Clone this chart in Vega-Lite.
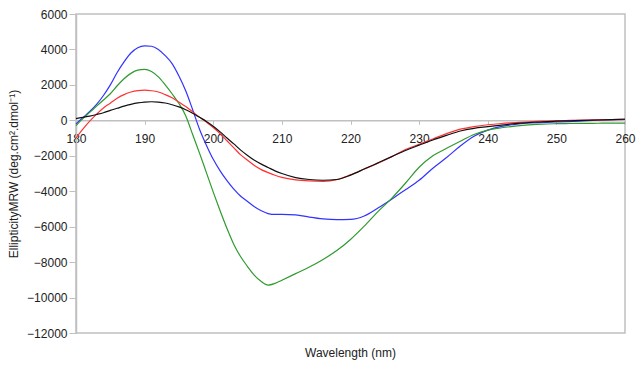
{
"$schema": "https://vega.github.io/schema/vega-lite/v6.json",
"width": 549, "height": 319,
"autosize": "none",
"padding": {"left": 76, "top": 14, "right": 11, "bottom": 33},
"background": "white",
"config": {"view": {"stroke": "#c0c0c0", "strokeWidth": 1.5}, "font": "Liberation Sans"},
"title": {"text": "Wavelength (nm)", "orient": "bottom", "fontSize": 12, "fontWeight": "normal", "color": "#222222", "offset": 9, "anchor": "middle"},
"data": {"values": [
{"s":"s1","x":180,"y":-200},{"s":"s1","x":181,"y":150},{"s":"s1","x":182,"y":500},{"s":"s1","x":183,"y":900},{"s":"s1","x":184,"y":1400},{"s":"s1","x":185,"y":2000},{"s":"s1","x":186,"y":2700},{"s":"s1","x":187,"y":3300},{"s":"s1","x":188,"y":3800},{"s":"s1","x":189,"y":4100},{"s":"s1","x":190,"y":4200},{"s":"s1","x":191,"y":4180},{"s":"s1","x":192,"y":4000},{"s":"s1","x":193,"y":3650},{"s":"s1","x":194,"y":3200},{"s":"s1","x":195,"y":2500},{"s":"s1","x":196,"y":1650},{"s":"s1","x":197,"y":600},{"s":"s1","x":198,"y":-500},{"s":"s1","x":199,"y":-1400},{"s":"s1","x":200,"y":-2200},{"s":"s1","x":201,"y":-2850},{"s":"s1","x":202,"y":-3400},{"s":"s1","x":203,"y":-3880},{"s":"s1","x":204,"y":-4280},{"s":"s1","x":205,"y":-4580},{"s":"s1","x":206,"y":-4880},{"s":"s1","x":207,"y":-5100},{"s":"s1","x":208,"y":-5260},{"s":"s1","x":209,"y":-5310},{"s":"s1","x":210,"y":-5310},{"s":"s1","x":212,"y":-5330},{"s":"s1","x":214,"y":-5460},{"s":"s1","x":216,"y":-5560},{"s":"s1","x":218,"y":-5600},{"s":"s1","x":220,"y":-5590},{"s":"s1","x":222,"y":-5400},{"s":"s1","x":224,"y":-4950},{"s":"s1","x":226,"y":-4450},{"s":"s1","x":228,"y":-3920},{"s":"s1","x":230,"y":-3380},{"s":"s1","x":232,"y":-2700},{"s":"s1","x":234,"y":-2100},{"s":"s1","x":236,"y":-1450},{"s":"s1","x":238,"y":-900},{"s":"s1","x":240,"y":-550},{"s":"s1","x":242,"y":-340},{"s":"s1","x":244,"y":-230},{"s":"s1","x":246,"y":-150},{"s":"s1","x":248,"y":-110},{"s":"s1","x":250,"y":-90},{"s":"s1","x":252,"y":-70},{"s":"s1","x":254,"y":-30},{"s":"s1","x":256,"y":10},{"s":"s1","x":258,"y":40},{"s":"s1","x":260,"y":50},
{"s":"s2","x":180,"y":-300},{"s":"s2","x":181,"y":100},{"s":"s2","x":182,"y":450},{"s":"s2","x":183,"y":800},{"s":"s2","x":184,"y":1150},{"s":"s2","x":185,"y":1500},{"s":"s2","x":186,"y":1950},{"s":"s2","x":187,"y":2350},{"s":"s2","x":188,"y":2650},{"s":"s2","x":189,"y":2830},{"s":"s2","x":190,"y":2870},{"s":"s2","x":191,"y":2750},{"s":"s2","x":192,"y":2450},{"s":"s2","x":193,"y":2000},{"s":"s2","x":194,"y":1500},{"s":"s2","x":195,"y":950},{"s":"s2","x":196,"y":250},{"s":"s2","x":197,"y":-800},{"s":"s2","x":198,"y":-1850},{"s":"s2","x":199,"y":-2950},{"s":"s2","x":200,"y":-4050},{"s":"s2","x":201,"y":-5100},{"s":"s2","x":202,"y":-6100},{"s":"s2","x":203,"y":-7000},{"s":"s2","x":204,"y":-7700},{"s":"s2","x":205,"y":-8250},{"s":"s2","x":206,"y":-8750},{"s":"s2","x":207,"y":-9100},{"s":"s2","x":208,"y":-9300},{"s":"s2","x":209,"y":-9200},{"s":"s2","x":210,"y":-9020},{"s":"s2","x":212,"y":-8650},{"s":"s2","x":214,"y":-8280},{"s":"s2","x":216,"y":-7850},{"s":"s2","x":218,"y":-7350},{"s":"s2","x":220,"y":-6720},{"s":"s2","x":222,"y":-5970},{"s":"s2","x":224,"y":-5150},{"s":"s2","x":226,"y":-4400},{"s":"s2","x":228,"y":-3550},{"s":"s2","x":230,"y":-2650},{"s":"s2","x":232,"y":-2000},{"s":"s2","x":234,"y":-1580},{"s":"s2","x":236,"y":-1180},{"s":"s2","x":238,"y":-800},{"s":"s2","x":240,"y":-550},{"s":"s2","x":242,"y":-420},{"s":"s2","x":244,"y":-330},{"s":"s2","x":246,"y":-260},{"s":"s2","x":248,"y":-210},{"s":"s2","x":250,"y":-190},{"s":"s2","x":252,"y":-180},{"s":"s2","x":254,"y":-170},{"s":"s2","x":256,"y":-165},{"s":"s2","x":258,"y":-160},{"s":"s2","x":260,"y":-160},
{"s":"s3","x":180,"y":-1000},{"s":"s3","x":181,"y":-500},{"s":"s3","x":182,"y":-50},{"s":"s3","x":183,"y":350},{"s":"s3","x":184,"y":700},{"s":"s3","x":185,"y":970},{"s":"s3","x":186,"y":1250},{"s":"s3","x":187,"y":1450},{"s":"s3","x":188,"y":1600},{"s":"s3","x":189,"y":1680},{"s":"s3","x":190,"y":1700},{"s":"s3","x":191,"y":1670},{"s":"s3","x":192,"y":1600},{"s":"s3","x":193,"y":1450},{"s":"s3","x":194,"y":1270},{"s":"s3","x":195,"y":1030},{"s":"s3","x":196,"y":780},{"s":"s3","x":197,"y":480},{"s":"s3","x":198,"y":180},{"s":"s3","x":199,"y":-100},{"s":"s3","x":200,"y":-400},{"s":"s3","x":201,"y":-750},{"s":"s3","x":202,"y":-1150},{"s":"s3","x":203,"y":-1550},{"s":"s3","x":204,"y":-1950},{"s":"s3","x":205,"y":-2250},{"s":"s3","x":206,"y":-2550},{"s":"s3","x":207,"y":-2780},{"s":"s3","x":208,"y":-2950},{"s":"s3","x":209,"y":-3100},{"s":"s3","x":210,"y":-3220},{"s":"s3","x":212,"y":-3360},{"s":"s3","x":214,"y":-3420},{"s":"s3","x":216,"y":-3440},{"s":"s3","x":218,"y":-3350},{"s":"s3","x":220,"y":-3080},{"s":"s3","x":222,"y":-2750},{"s":"s3","x":224,"y":-2420},{"s":"s3","x":226,"y":-2050},{"s":"s3","x":228,"y":-1650},{"s":"s3","x":230,"y":-1350},{"s":"s3","x":232,"y":-1050},{"s":"s3","x":234,"y":-750},{"s":"s3","x":236,"y":-500},{"s":"s3","x":238,"y":-350},{"s":"s3","x":240,"y":-250},{"s":"s3","x":242,"y":-180},{"s":"s3","x":244,"y":-130},{"s":"s3","x":246,"y":-80},{"s":"s3","x":248,"y":-40},{"s":"s3","x":250,"y":-20},{"s":"s3","x":252,"y":-5},{"s":"s3","x":254,"y":10},{"s":"s3","x":256,"y":25},{"s":"s3","x":258,"y":40},{"s":"s3","x":260,"y":50},
{"s":"s4","x":180,"y":100},{"s":"s4","x":181,"y":170},{"s":"s4","x":182,"y":240},{"s":"s4","x":183,"y":330},{"s":"s4","x":184,"y":430},{"s":"s4","x":185,"y":560},{"s":"s4","x":186,"y":680},{"s":"s4","x":187,"y":800},{"s":"s4","x":188,"y":900},{"s":"s4","x":189,"y":980},{"s":"s4","x":190,"y":1030},{"s":"s4","x":191,"y":1050},{"s":"s4","x":192,"y":1030},{"s":"s4","x":193,"y":980},{"s":"s4","x":194,"y":880},{"s":"s4","x":195,"y":760},{"s":"s4","x":196,"y":600},{"s":"s4","x":197,"y":400},{"s":"s4","x":198,"y":170},{"s":"s4","x":199,"y":-60},{"s":"s4","x":200,"y":-330},{"s":"s4","x":201,"y":-650},{"s":"s4","x":202,"y":-1000},{"s":"s4","x":203,"y":-1330},{"s":"s4","x":204,"y":-1680},{"s":"s4","x":205,"y":-1980},{"s":"s4","x":206,"y":-2250},{"s":"s4","x":207,"y":-2470},{"s":"s4","x":208,"y":-2660},{"s":"s4","x":209,"y":-2850},{"s":"s4","x":210,"y":-3000},{"s":"s4","x":212,"y":-3230},{"s":"s4","x":214,"y":-3340},{"s":"s4","x":216,"y":-3380},{"s":"s4","x":218,"y":-3340},{"s":"s4","x":220,"y":-3090},{"s":"s4","x":222,"y":-2750},{"s":"s4","x":224,"y":-2400},{"s":"s4","x":226,"y":-2050},{"s":"s4","x":228,"y":-1700},{"s":"s4","x":230,"y":-1400},{"s":"s4","x":232,"y":-1110},{"s":"s4","x":234,"y":-850},{"s":"s4","x":236,"y":-600},{"s":"s4","x":238,"y":-450},{"s":"s4","x":240,"y":-360},{"s":"s4","x":242,"y":-270},{"s":"s4","x":244,"y":-190},{"s":"s4","x":246,"y":-130},{"s":"s4","x":248,"y":-80},{"s":"s4","x":250,"y":-50},{"s":"s4","x":252,"y":-25},{"s":"s4","x":254,"y":0},{"s":"s4","x":256,"y":20},{"s":"s4","x":258,"y":40},{"s":"s4","x":260,"y":60}
]},
"mark": {"type": "line", "interpolate": "monotone", "strokeWidth": 1.2},
"encoding": {
  "x": {"field": "x", "type": "quantitative", "scale": {"domain": [180, 260], "nice": false},
        "axis": {"offset": -212.7, "values": [180,190,200,210,220,230,240,250,260], "grid": false, "domainColor": "#c0c0c0", "domainWidth": 1.5, "tickColor": "#c0c0c0", "tickSize": 4, "labelFontSize": 12, "labelColor": "#222222", "labelPadding": 9, "labelFlush": false, "title": null}},
  "y": {"field": "y", "type": "quantitative", "scale": {"domain": [-12000, 6000], "nice": false},
        "axis": {"values": [-12000,-10000,-8000,-6000,-4000,-2000,0,2000,4000,6000], "format": "d", "grid": false, "domainColor": "#c0c0c0", "domainWidth": 1.5, "tickColor": "#c0c0c0", "tickSize": 7, "labelPadding": 2, "labelFontSize": 12, "labelColor": "#222222", "titleFontSize": 12, "titleFontWeight": "normal", "titleColor": "#222222", "titlePadding": 6, "title": "EllipticityMRW (deg.cm².dmol⁻¹)"}},
  "color": {"field": "s", "type": "nominal", "scale": {"domain": ["s1","s2","s3","s4"], "range": ["#3333ff", "#2f9a2f", "#ff3333", "#111111"]}, "legend": null}
}
}
